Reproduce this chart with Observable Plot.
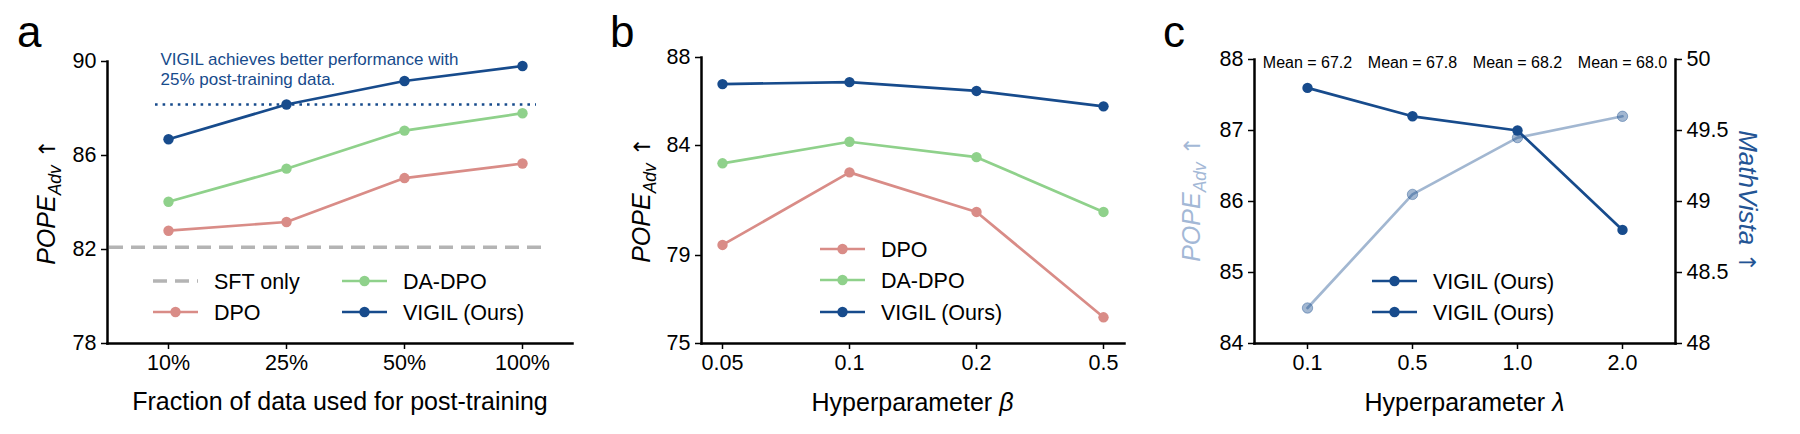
<!DOCTYPE html>
<html>
<head>
<meta charset="utf-8">
<script src="https://cdn.jsdelivr.net/npm/d3@7"></script>
<script src="https://cdn.jsdelivr.net/npm/@observablehq/plot@0.6"></script>
<style>
  body { margin: 0; background: #fff; }
  #fig { position: relative; width: 1800px; height: 434px; }
  #fig svg { position: absolute; top: 0; overflow: visible; }
</style>
</head>
<body>
<div id="fig"></div>
<script>
// ---- Panel a: fraction of post-training data ----
const fractions = ["10%", "25%", "50%", "100%"];
const fracDPO   = [82.8, 83.17, 85.04, 85.66];
const fracDADPO = [84.03, 85.44, 87.06, 87.8];
const fracVIGIL = [86.69, 88.17, 89.17, 89.81];
const sftOnly = 82.1;
const fracTicks = [78, 82, 86, 90];

// ---- Panel b: hyperparameter beta ----
const betas = ["0.05", "0.1", "0.2", "0.5"];
const betaDPO   = [79.48, 82.78, 80.98, 76.19];
const betaDADPO = [83.19, 84.17, 83.47, 80.98];
const betaVIGIL = [86.79, 86.88, 86.48, 85.78];
const betaTicks = [75, 79, 84, 88];

// ---- Panel c: hyperparameter lambda ----
const lambdas = ["0.1", "0.5", "1.0", "2.0"];
const lambdaPOPE = [84.5, 86.1, 86.9, 87.2];
const lambdaMathVista = [49.8, 49.6, 49.5, 48.8];
const lambdaMeans = ["67.2", "67.8", "68.2", "68.0"];
const popeTicks = [84, 85, 86, 87, 88];
const mathTicks = [48, 48.5, 49, 49.5, 50];

const FONT = '"Liberation Sans", Arial, Helvetica, sans-serif';
const ARROW_FONT = '"DejaVu Sans", sans-serif';
const COLORS = { dpo: "#d98c87", dadpo: "#8fd18b", vigil: "#174b8c", sft: "#b4b4b4", light: "#a3b8d6" };
const AXIS_W = 2.5, LINE_W = 2.7, DOT_R = 5.2, TICK_FS = 21.5, TITLE_FS = 25;
const fmt = d3.format("~g");

const fig = document.getElementById("fig");

function baseStyle() {
  return { fontFamily: FONT, fontSize: TICK_FS + "px", color: "#000", background: "transparent", overflow: "visible" };
}

// line + dot marks for one series over categorical x
function seriesMarks(cats, values, color, extra = {}) {
  const data = cats.map((c, i) => ({ x: c, y: values[i] }));
  const op = extra.opacity ?? 1;
  return [
    Plot.line(data, { x: "x", y: "y", stroke: color, strokeWidth: LINE_W, strokeOpacity: op }),
    Plot.dot(data, { x: "x", y: "y", fill: color, r: DOT_R, fillOpacity: op,
      stroke: extra.opacity ? color : "none", strokeOpacity: op, strokeWidth: 1 })
  ];
}

function xAxis() {
  return Plot.axisX({ tickSize: 6, tickPadding: 5, label: null, strokeWidth: 1.5, fontSize: TICK_FS });
}
function yAxis(ticks) {
  return Plot.axisY({ ticks, tickSize: 6, tickPadding: 5, label: null, strokeWidth: 1.5, fontSize: TICK_FS, tickFormat: fmt });
}

// rich text (italic / subscript parts) appended to a plot's svg
function addText(svg, { x, y, rotate = 0, anchor = "middle", size, color = "#000", parts, baseline }) {
  const t = d3.select(svg).append("text")
    .attr("transform", `translate(${x},${y}) rotate(${rotate})`)
    .attr("text-anchor", anchor)
    .attr("font-family", FONT)
    .attr("font-size", size)
    .attr("fill", color);
  if (baseline) t.attr("dy", baseline);
  for (const p of parts) {
    const s = t.append("tspan").text(p.text);
    if (p.italic) s.attr("font-style", "italic");
    if (p.size) s.attr("font-size", p.size);
    if (p.dy) s.attr("dy", p.dy);
    if (p.font) s.attr("font-family", p.font);
  }
  return t;
}

function popeParts(size) {
  return [
    { text: "POPE", italic: true },
    { text: "Adv", italic: true, size: size * 0.7, dy: size * 0.25 },
    { text: " \u2191", dy: -size * 0.25, font: ARROW_FONT, size: size * 0.9 }
  ];
}

function axisTitle(svg, x, y, name, symbol) {
  addText(svg, { x, y, size: TITLE_FS, baseline: "0.35em",
    parts: [{ text: name + " " }, { text: symbol, italic: true }] });
}

// legend: short line with a centred dot, then the label
function addLegend(svg, items) {
  const g = d3.select(svg).append("g")
    .attr("font-family", FONT).attr("font-size", 21.5).attr("text-anchor", "start");
  for (const it of items) {
    const gi = g.append("g").attr("transform", `translate(${it.x},${it.y})`);
    gi.append("line").attr("x1", 0).attr("x2", 45).attr("y1", 0).attr("y2", 0)
      .attr("stroke", it.color).attr("stroke-width", it.dash ? 3.5 : LINE_W)
      .attr("stroke-dasharray", it.dash || null);
    if (!it.dash) gi.append("circle").attr("cx", 22.5).attr("cy", 0).attr("r", DOT_R).attr("fill", it.color);
    gi.append("text").attr("x", 61).attr("y", 0).attr("dy", "0.36em").attr("fill", "#000").text(it.label);
  }
}

function place(svg, left) {
  svg.style.left = left + "px";
  fig.appendChild(svg);
  return svg;
}

// ---------------- Panel a ----------------
const plotA = Plot.plot({
  width: 600, height: 434,
  marginLeft: 107, marginRight: 28, marginTop: 61, marginBottom: 91,
  style: baseStyle(),
  x: { type: "point", domain: fractions, padding: 0, insetLeft: 60, insetRight: 49 },
  y: { domain: [78, 90] },
  marks: [
    Plot.ruleY([sftOnly], { stroke: COLORS.sft, strokeWidth: 3.5, strokeDasharray: "14,8", insetLeft: 2, insetRight: 25 }),
    ...seriesMarks(fractions, fracDPO, COLORS.dpo),
    ...seriesMarks(fractions, fracDADPO, COLORS.dadpo),
    Plot.ruleY([fracVIGIL[1]], { stroke: COLORS.vigil, strokeWidth: 2.6, strokeDasharray: "2.6,5", insetLeft: 48, insetRight: 36 }),
    ...seriesMarks(fractions, fracVIGIL, COLORS.vigil),
    Plot.text(["VIGIL achieves better performance with\n25% post-training data."], {
      frameAnchor: "top-left", textAnchor: "start", lineAnchor: "top", dx: 53, dy: -11,
      fill: COLORS.vigil, fontSize: 17, lineHeight: 1.18
    }),
    Plot.text(["Fraction of data used for post-training"], {
      frameAnchor: "bottom", lineAnchor: "middle", dy: 58, fontSize: TITLE_FS, fill: "#000"
    }),
    xAxis(), yAxis(fracTicks),
    Plot.frame({ anchor: "left", strokeWidth: AXIS_W }),
    Plot.frame({ anchor: "bottom", strokeWidth: AXIS_W })
  ]
});
place(plotA, 0);
addText(plotA, { x: 17, y: 47, anchor: "start", size: 44, parts: [{ text: "a" }] });
addText(plotA, { x: 55, y: 202, rotate: -90, size: 25, parts: popeParts(25) });
addLegend(plotA, [
  { x: 153, y: 281, color: COLORS.sft, dash: "14,8", label: "SFT only" },
  { x: 153, y: 312, color: COLORS.dpo, label: "DPO" },
  { x: 342, y: 281, color: COLORS.dadpo, label: "DA-DPO" },
  { x: 342, y: 312, color: COLORS.vigil, label: "VIGIL (Ours)" }
]);

// ---------------- Panel b ----------------
const plotB = Plot.plot({
  width: 600, height: 434,
  marginLeft: 101, marginRight: 76, marginTop: 57, marginBottom: 91,
  style: baseStyle(),
  x: { type: "point", domain: betas, padding: 0, insetLeft: 20, insetRight: 20 },
  y: { domain: [75, 88] },
  marks: [
    ...seriesMarks(betas, betaDPO, COLORS.dpo),
    ...seriesMarks(betas, betaDADPO, COLORS.dadpo),
    ...seriesMarks(betas, betaVIGIL, COLORS.vigil),
    xAxis(), yAxis(betaTicks),
    Plot.frame({ anchor: "left", strokeWidth: AXIS_W }),
    Plot.frame({ anchor: "bottom", strokeWidth: AXIS_W })
  ]
});
place(plotB, 600);
addText(plotB, { x: 10, y: 47, anchor: "start", size: 44, parts: [{ text: "b" }] });
addText(plotB, { x: 50, y: 200, rotate: -90, size: 25, parts: popeParts(25) });
axisTitle(plotB, (101 + 600 - 76) / 2, 402, "Hyperparameter", "\u03b2");
addLegend(plotB, [
  { x: 220, y: 249, color: COLORS.dpo, label: "DPO" },
  { x: 220, y: 280, color: COLORS.dadpo, label: "DA-DPO" },
  { x: 220, y: 312, color: COLORS.vigil, label: "VIGIL (Ours)" }
]);

// ---------------- Panel c (twin y axes) ----------------
// MathVista (right axis) expressed in POPE units of the left axis
const mathToPope = d3.scaleLinear([48, 50], [84, 88]);

const plotC = Plot.plot({
  width: 600, height: 434,
  marginLeft: 54, marginRight: 125, marginTop: 59, marginBottom: 91,
  style: baseStyle(),
  x: { type: "point", domain: lambdas, padding: 0.5 },
  y: { domain: [84, 88] },
  marks: [
    ...seriesMarks(lambdas, lambdaPOPE, COLORS.vigil, { opacity: 0.4 }),
    ...seriesMarks(lambdas, lambdaMathVista.map(mathToPope), COLORS.vigil),
    Plot.text(lambdas, {
      x: d => d, y: () => 88, text: (d, i) => `Mean = ${lambdaMeans[i]}`,
      dy: 3.5, fontSize: 16, fill: "#000", lineAnchor: "middle"
    }),
    xAxis(), yAxis(popeTicks),
    Plot.axisY(mathTicks.map(mathToPope), {
      anchor: "right", tickSize: 6, tickPadding: 5, label: null, strokeWidth: 1.5, fontSize: TICK_FS,
      tickFormat: d => fmt(+mathToPope.invert(d).toFixed(2))
    }),
    Plot.frame({ anchor: "left", strokeWidth: AXIS_W }),
    Plot.frame({ anchor: "right", strokeWidth: AXIS_W }),
    Plot.frame({ anchor: "bottom", strokeWidth: AXIS_W })
  ]
});
place(plotC, 1200);
addText(plotC, { x: -37, y: 47, anchor: "start", size: 44, parts: [{ text: "c" }] });
addText(plotC, { x: 0, y: 199, rotate: -90, size: 25, color: COLORS.light, parts: popeParts(25) });
addText(plotC, { x: 539, y: 201, rotate: 90, size: 26, color: "#235494",
  parts: [{ text: "MathVista", italic: true }, { text: " \u2191", font: ARROW_FONT, size: 23 }] });
axisTitle(plotC, (54 + 600 - 125) / 2, 402, "Hyperparameter", "\u03bb");
addLegend(plotC, [
  { x: 172, y: 281, color: COLORS.vigil, label: "VIGIL (Ours)" },
  { x: 172, y: 312, color: COLORS.vigil, label: "VIGIL (Ours)" }
]);
</script>
</body>
</html>
